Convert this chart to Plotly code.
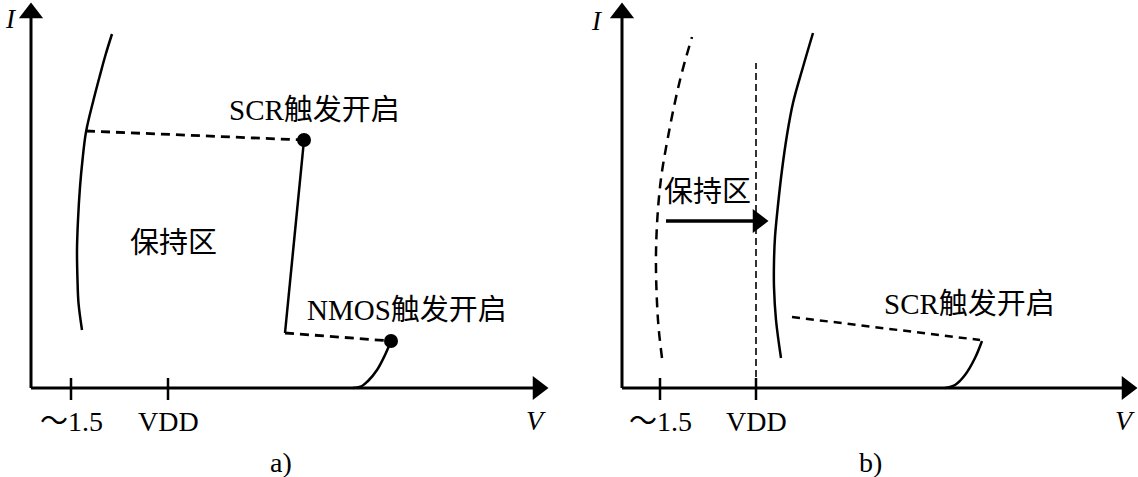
import plotly.graph_objects as go

# ---------------- data (schematic units: V to the right, I upward) ----------------
# Panel a)
a_hold_v = [5.1, 4.75, 4.65, 4.6, 4.7, 4.9, 5.15, 5.5, 6.25, 6.85, 7.45, 8.1]
a_hold_i = [5.8, 8.5, 10.8, 13.8, 16.8, 20.1, 22.8, 25.6, 28.8, 31.1, 33.3, 35.4]
a_scr_dash_v = [5.5, 27.3]
a_scr_dash_i = [25.7, 24.8]
a_snap_v = [27.3, 25.4]
a_snap_i = [24.8, 5.5]
a_nmos_dash_v = [25.4, 36.0]
a_nmos_dash_i = [5.5, 4.7]
a_nmos_v = [32.2, 33.1, 33.7, 34.6, 35.4, 36.0]
a_nmos_i = [0.0, 0.2, 0.7, 1.8, 3.3, 4.7]
a_trig_v = [27.3, 36.0]
a_trig_i = [24.8, 4.7]
a_tick_v = [4.0, 13.7]

# Panel b)
b_old_v = [4.0, 3.6, 3.4, 3.8, 4.6, 5.8, 7.0]
b_old_i = [3.0, 6.8, 13.5, 20.1, 25.1, 30.8, 35.1]
b_vdd_v = [13.4, 13.4]
b_vdd_i = [0.0, 32.5]
b_new_v = [15.9, 15.4, 15.2, 15.2, 15.3, 15.6, 16.0, 16.5, 17.1, 18.1, 19.1]
b_new_i = [3.0, 6.8, 10.1, 12.6, 15.1, 18.3, 21.8, 25.3, 28.5, 32.1, 35.5]
b_shift_v = [4.4, 13.6]
b_shift_i = [16.7, 16.7]
b_scr_dash_v = [17.0, 35.8]
b_scr_dash_i = [7.1, 4.8]
b_scr_v = [32.3, 33.3, 34.3, 35.3, 36.0]
b_scr_i = [0.0, 0.3, 1.3, 3.0, 4.7]
b_tick_v = [3.8, 13.4]

tick_labels = ["～1.5", "VDD"]

# axis extents (schematic)
a_vmax, b_vmax, i_max = 50.7, 50.5, 37.5

BLACK = "black"
FONT = "Liberation Serif, Noto Sans CJK SC, serif"

fig = go.Figure()


def line(xs, ys, xa, width=2.5, dash="solid", shape="linear"):
    fig.add_trace(go.Scatter(x=xs, y=ys, xaxis=xa, yaxis="y", mode="lines",
                             line=dict(color=BLACK, width=width, dash=dash, shape=shape),
                             hoverinfo="skip", showlegend=False))


def marker(xs, ys, xa, symbol, size):
    fig.add_trace(go.Scatter(x=xs, y=ys, xaxis=xa, yaxis="y", mode="markers",
                             marker=dict(color=BLACK, size=size, symbol=symbol, line=dict(width=0)),
                             cliponaxis=False, hoverinfo="skip", showlegend=False))


def axes(xa, vmax, ticks):
    line([0, vmax], [0, 0], xa, width=3)
    line([0, 0], [0, i_max], xa, width=3)
    marker([vmax], [0], xa, "triangle-right", 21)
    marker([0], [i_max], xa, "triangle-up", 21)
    tx, ty = [], []
    for t in ticks:
        tx += [t, t, None]
        ty += [-1.2, 1.0, None]
    line(tx, ty, xa, width=2.5)


# Panel a
axes("x", a_vmax, a_tick_v)
line(a_hold_v, a_hold_i, "x", width=2.5, shape="spline")
line(a_scr_dash_v, a_scr_dash_i, "x", width=2.8, dash="9px,6px")
line(a_snap_v, a_snap_i, "x", width=2.5)
line(a_nmos_dash_v, a_nmos_dash_i, "x", width=2.8, dash="9px,6px")
line(a_nmos_v, a_nmos_i, "x", width=2.5, shape="spline")
marker(a_trig_v, a_trig_i, "x", "circle", 14)

# Panel b
axes("x2", b_vmax, b_tick_v)
line(b_old_v, b_old_i, "x2", width=2.5, dash="10px,7px", shape="spline")
line(b_vdd_v, b_vdd_i, "x2", width=1.6, dash="7px,4px")
line(b_new_v, b_new_i, "x2", width=2.5, shape="spline")
line(b_shift_v, b_shift_i, "x2", width=3.5)
marker([b_shift_v[-1]], [b_shift_i[-1]], "x2", "triangle-right", 21)
line(b_scr_dash_v, b_scr_dash_i, "x2", width=2.5, dash="8px,6px")
line(b_scr_v, b_scr_i, "x2", width=2.5, shape="spline")

# ---------------- text ----------------
def text(x, y, s, xa, size=29):
    fig.add_annotation(x=x, y=y, xref=xa, yref="y", text=s, showarrow=False,
                       font=dict(family=FONT, size=size, color=BLACK))


for xa, ticks in (("x", a_tick_v), ("x2", b_tick_v)):
    for t, lab in zip(ticks, tick_labels):
        text(t, -3.3, lab, xa, size=28)

text(50.5, -3.2, "<i>V</i>", "x", size=28)
text(50.3, -3.2, "<i>V</i>", "x2", size=28)
text(-2.0, 36.9, "<i>I</i>", "x", size=27)
text(-2.5, 36.7, "<i>I</i>", "x2", size=27)
text(25.0, -7.4, "a)", "x", size=28)
text(24.8, -7.4, "b)", "x2", size=28)

text(28.3, 27.8, "SCR触发开启", "x", size=29)
text(37.6, 7.8, "NMOS触发开启", "x", size=29)
text(14.2, 14.5, "保持区", "x", size=29)
text(8.5, 19.6, "保持区", "x2", size=29)
text(34.7, 8.4, "SCR触发开启", "x2", size=29)

fig.update_layout(
    width=1138, height=477,
    margin=dict(l=0, r=0, t=0, b=0),
    paper_bgcolor="white", plot_bgcolor="white",
    xaxis=dict(domain=[0, 0.5], range=[-3.1, 53.8], visible=False, fixedrange=True),
    xaxis2=dict(domain=[0.5, 1], range=[-5.3, 51.6], visible=False, anchor="y", fixedrange=True),
    yaxis=dict(domain=[0, 1], range=[-8.9, 38.8], visible=False, fixedrange=True),
    showlegend=False,
)

fig.write_html(
    "out.html",
    config={"displayModeBar": False},
    post_script="document.body.style.margin='0px';document.body.style.overflow='hidden';",
)
